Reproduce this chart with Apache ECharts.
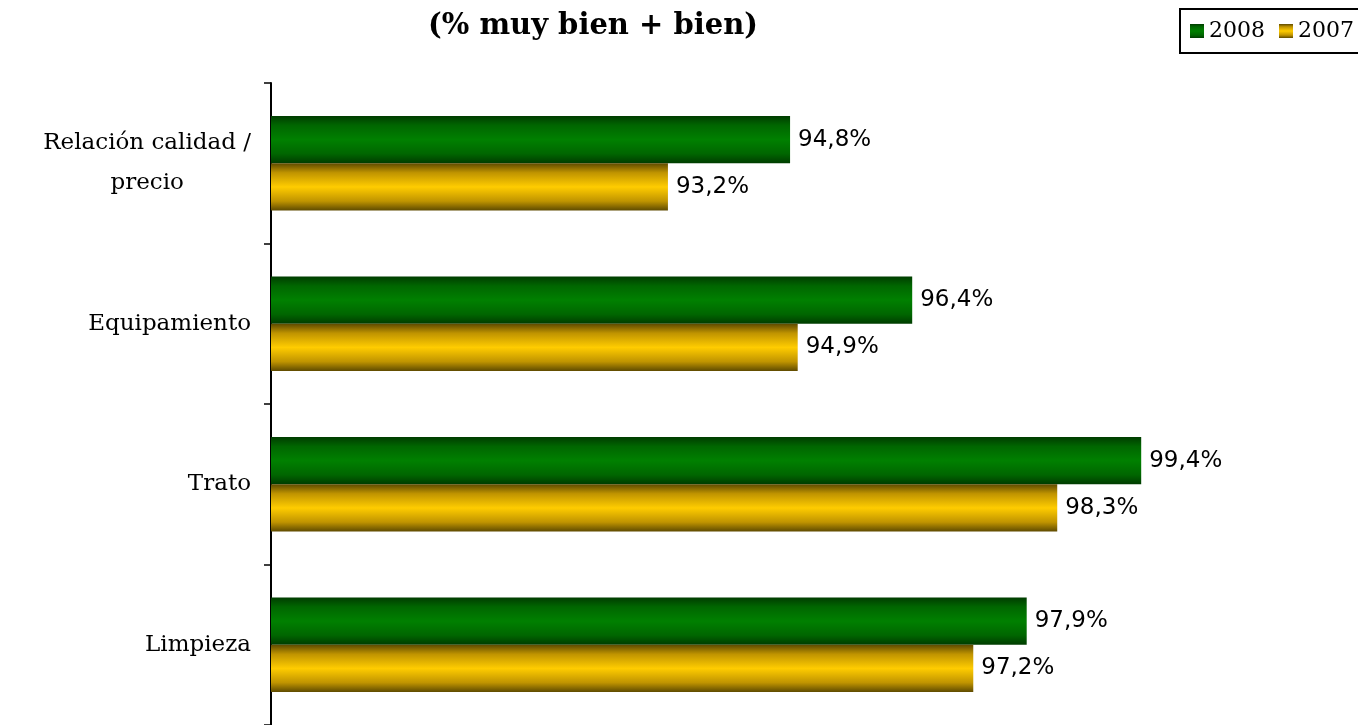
<!DOCTYPE html>
<html>
<head>
<meta charset="utf-8">
<script src="https://cdn.jsdelivr.net/npm/echarts@6/dist/echarts.min.js"></script>
<style>
html,body{margin:0;padding:0;background:#fff;}
#c{width:1358px;height:725px;}
</style>
</head>
<body>
<div id="c"></div>
<script>
const categories = ['Relación calidad /\nprecio', 'Equipamiento', 'Trato', 'Limpieza'];
const seriesNames = ['2008', '2007'];
const values2008 = [94.8, 96.4, 99.4, 97.9];
const values2007 = [93.2, 94.9, 98.3, 97.2];
const titleText = '(% muy bien + bien)';

const SERIF = 'DejaVu Serif';
const SANS = 'DejaVu Sans';

function grad(dark, mid, bright) {
  return new echarts.graphic.LinearGradient(0, 0, 0, 1, [
    {offset: 0, color: dark},
    {offset: 0.2, color: mid},
    {offset: 0.5, color: bright},
    {offset: 0.8, color: mid},
    {offset: 1, color: dark}
  ]);
}
const greenFill = grad('#003c00', '#006600', '#008000');
const yellowFill = grad('#5e4a00', '#c09400', '#ffcc00');

const valueLabel = {
  show: true, position: 'right', distance: 8,
  fontFamily: SANS, fontSize: 23, color: '#000',
  formatter: p => p.value.toFixed(1).replace('.', ',') + '%'
};

const chart = echarts.init(document.getElementById('c'));
chart.setOption({
  animation: false,
  backgroundColor: '#fff',
  title: {
    text: titleText,
    left: 588,
    textAlign: 'center',
    top: 7,
    textStyle: {fontFamily: SERIF, fontSize: 29, fontWeight: 'bold', color: '#000'}
  },
  legend: {
    data: seriesNames,
    orient: 'horizontal',
    left: 1180,
    top: 9,
    width: 260,
    padding: [11, 10, 11, 10],
    borderColor: '#000',
    borderWidth: 2,
    icon: 'rect',
    itemWidth: 14,
    itemHeight: 14,
    itemGap: 14,
    textStyle: {fontFamily: SERIF, fontSize: 22, color: '#000'}
  },
  grid: {left: 271, top: 83, width: 916, height: 644, containLabel: false},
  xAxis: {type: 'value', min: 88, max: 100, show: false},
  yAxis: {
    type: 'category',
    data: categories,
    inverse: true,
    axisLine: {show: true, lineStyle: {color: '#000', width: 2}},
    axisTick: {show: true, length: 7, lineStyle: {color: '#000', width: 1.5}},
    axisLabel: {
      margin: 20,
      color: '#000',
      fontFamily: SERIF,
      fontSize: 23,
      lineHeight: 40,
      formatter: function (v) {
        return v.split('\n').map(s => '{a|' + s + '}').join('\n');
      },
      rich: {a: {fontFamily: SERIF, fontSize: 23, lineHeight: 40, align: 'center', color: '#000'}}
    },
    splitLine: {show: false}
  },
  series: [
    {
      name: seriesNames[0], type: 'bar', data: values2008,
      barGap: '0%', barCategoryGap: '41%',
      itemStyle: {color: greenFill},
      label: valueLabel
    },
    {
      name: seriesNames[1], type: 'bar', data: values2007,
      barGap: '0%', barCategoryGap: '41%',
      itemStyle: {color: yellowFill},
      label: valueLabel
    }
  ]
});
</script>
</body>
</html>
